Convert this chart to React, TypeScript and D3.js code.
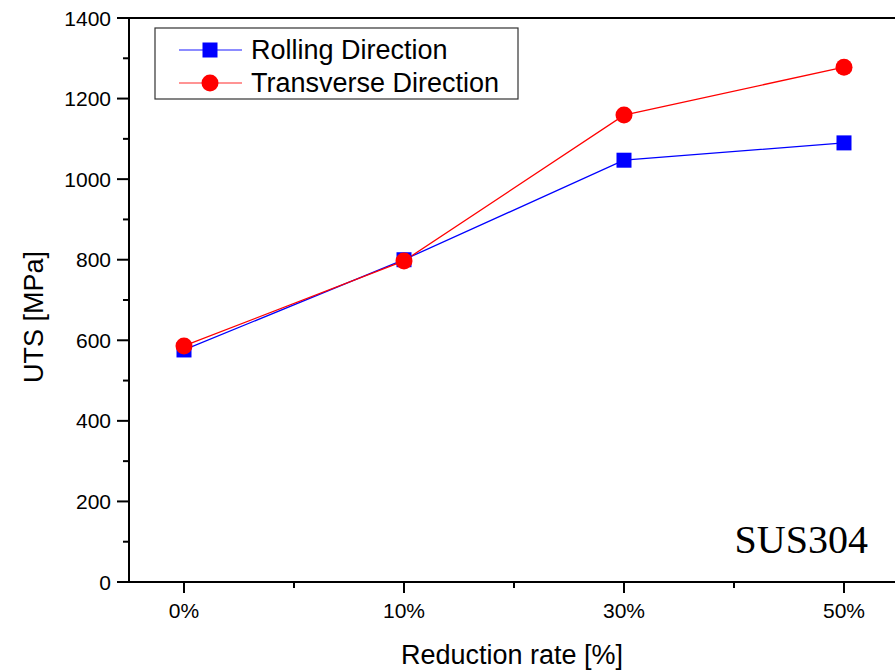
import { useEffect, useRef } from 'react';
import * as d3 from 'd3';

const categories = ['0%', '10%', '30%', '50%'];
const rollingValues = [576, 800, 1047, 1090];
const transverseValues = [586, 797, 1159, 1278];
const yTicks = [0, 200, 400, 600, 800, 1000, 1200, 1400];

const series = [
  { name: 'Rolling Direction', values: rollingValues, color: '#0000ff', legendLine: '#6666ff', marker: 'square' },
  { name: 'Transverse Direction', values: transverseValues, color: '#ff0000', legendLine: '#ff7070', marker: 'circle' },
];

export default function App() {
  const svgRef = useRef<SVGSVGElement>(null);
  const width = 895;
  const height = 671;

  useEffect(() => {
    const svg = d3.select(svgRef.current);
    svg.selectAll('*').remove();

    const left = 129;
    const top = 18;
    const bottom = 582;

    // x: category index, with a quarter step of padding each side
    const x = d3.scaleLinear().domain([-0.25, 3.25]).range([left, left + 3.5 * 220]);
    const y = d3.scaleLinear().domain([0, 1400]).range([bottom, top]);

    const font = '"Liberation Sans", Arial, sans-serif';

    // frame: top border
    svg.append('line')
      .attr('x1', left).attr('x2', width + 5)
      .attr('y1', top).attr('y2', top)
      .attr('stroke', '#000').attr('stroke-width', 2);

    // left axis
    svg.append('line')
      .attr('x1', left).attr('x2', left)
      .attr('y1', top - 1).attr('y2', bottom + 1)
      .attr('stroke', '#000').attr('stroke-width', 2);

    d3.range(0, 1401, 100).forEach(v => {
      const major = v % 200 === 0;
      svg.append('line')
        .attr('x1', left - (major ? 12 : 6)).attr('x2', left)
        .attr('y1', y(v)).attr('y2', y(v))
        .attr('stroke', '#000').attr('stroke-width', 2);
    });

    yTicks.forEach(v => {
      svg.append('text')
        .attr('x', 111)
        .attr('y', y(v))
        .attr('dy', '0.36em')
        .attr('text-anchor', 'end')
        .style('font-family', font)
        .style('font-size', '21px')
        .text(v);
    });

    // bottom axis
    svg.append('line')
      .attr('x1', left - 1).attr('x2', width + 5)
      .attr('y1', bottom).attr('y2', bottom)
      .attr('stroke', '#000').attr('stroke-width', 2);

    d3.range(0, 3.6, 0.5).forEach(i => {
      const major = Number.isInteger(i);
      svg.append('line')
        .attr('x1', x(i)).attr('x2', x(i))
        .attr('y1', bottom).attr('y2', bottom + (major ? 11 : 6))
        .attr('stroke', '#000').attr('stroke-width', 2);
    });

    categories.forEach((c, i) => {
      svg.append('text')
        .attr('x', x(i))
        .attr('y', 618)
        .attr('text-anchor', 'middle')
        .style('font-family', font)
        .style('font-size', '21px')
        .text(c);
    });

    // axis titles
    svg.append('text')
      .attr('x', 512)
      .attr('y', 664)
      .attr('text-anchor', 'middle')
      .style('font-family', font)
      .style('font-size', '27px')
      .text('Reduction rate [%]');

    svg.append('text')
      .attr('transform', 'translate(43, 317) rotate(-90)')
      .attr('text-anchor', 'middle')
      .style('font-family', font)
      .style('font-size', '27px')
      .text('UTS [MPa]');

    // series
    const line = d3.line<number>()
      .x((d, i) => x(i))
      .y(d => y(d));

    series.forEach(s => {
      svg.append('path')
        .attr('d', line(s.values) || '')
        .attr('fill', 'none')
        .attr('stroke', s.color)
        .attr('stroke-width', 1.3);
    });

    series.forEach(s => {
      s.values.forEach((v, i) => {
        if (s.marker === 'square') {
          svg.append('rect')
            .attr('x', x(i) - 7.5).attr('y', y(v) - 7.5)
            .attr('width', 15).attr('height', 15)
            .attr('fill', s.color);
        } else {
          svg.append('circle')
            .attr('cx', x(i)).attr('cy', y(v))
            .attr('r', 8.5)
            .attr('fill', s.color);
        }
      });
    });

    // legend
    const legend = svg.append('g').attr('transform', 'translate(155, 28)');
    legend.append('rect')
      .attr('width', 363).attr('height', 71)
      .attr('fill', '#fff')
      .attr('stroke', '#333').attr('stroke-width', 1.2);

    series.forEach((s, i) => {
      const ly = 22 + i * 33;
      legend.append('line')
        .attr('x1', 24).attr('x2', 87)
        .attr('y1', ly).attr('y2', ly)
        .attr('stroke', s.legendLine).attr('stroke-width', 1.5);
      if (s.marker === 'square') {
        legend.append('rect')
          .attr('x', 55 - 7.5).attr('y', ly - 7.5)
          .attr('width', 15).attr('height', 15)
          .attr('fill', s.color);
      } else {
        legend.append('circle')
          .attr('cx', 55).attr('cy', ly)
          .attr('r', 8.5)
          .attr('fill', s.color);
      }
      legend.append('text')
        .attr('x', 96)
        .attr('y', ly)
        .attr('dy', '0.32em')
        .style('font-family', font)
        .style('font-size', '27px')
        .text(s.name);
    });

    // annotation
    svg.append('text')
      .attr('x', 868)
      .attr('y', 553)
      .attr('text-anchor', 'end')
      .style('font-family', '"Liberation Serif", "Times New Roman", serif')
      .style('font-size', '40px')
      .text('SUS304');
  }, []);

  return (
    <svg
      ref={svgRef}
      width={width}
      height={height}
      style={{ position: 'absolute', left: 0, top: 0, background: '#fff' }}
    />
  );
}
